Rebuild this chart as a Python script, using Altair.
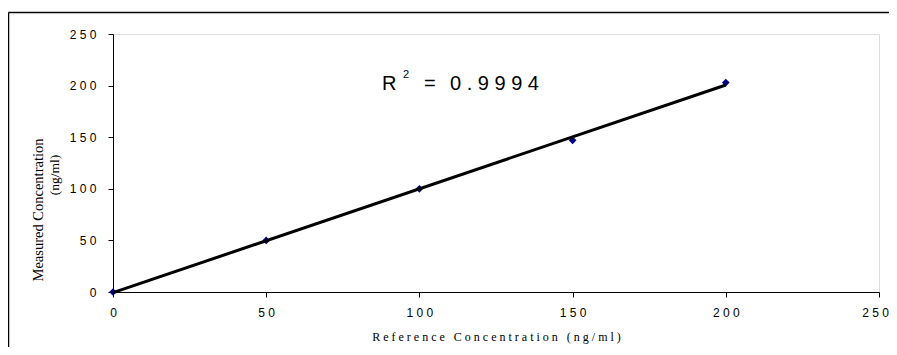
import altair as alt
import pandas as pd

# Data
reference_conc = [0, 50, 100, 150, 200]
measured_conc = [0, 50, 100, 147, 203]
axis_ticks = [0, 50, 100, 150, 200, 250]

df = pd.DataFrame({"ref": reference_conc, "meas": measured_conc})

W, H = 766, 258
NB = "\u00a0"

def spaced(s):
    words = s.split(" ")
    return (NB * 3).join(NB.join(list(w)) for w in words)

x_scale = alt.Scale(domain=[0, 250], nice=False, zero=True)
y_scale = alt.Scale(domain=[0, 250], nice=False, zero=True)

label_expr = "join(split(datum.label, ''), '\u00a0')"

x_axis = alt.Axis(
    values=axis_ticks, grid=False, domainColor="black", domainWidth=1,
    tickColor="black", tickSize=5, labelFont="Liberation Sans", labelFontSize=12,
    labelColor="black", labelPadding=10, labelExpr=label_expr, labelFlush=False,
    labelOverlap=False,
    labelOffset={"condition": {"test": "datum.value == 250", "value": -4}, "value": 0},
    title=spaced("Reference Concentration (ng/ml)"),
    titleFont="Liberation Serif", titleFontSize=12, titleFontWeight="normal",
    titleColor="black", titlePadding=13,
)
y_axis = alt.Axis(
    values=axis_ticks, grid=False, domainColor="black", domainWidth=1,
    tickColor="black", tickSize=5, labelFont="Liberation Sans", labelFontSize=12,
    labelColor="black", labelPadding=12, labelExpr=label_expr, labelFlush=False,
    labelOverlap=False, title=None,
)

base = alt.Chart(df)

points = base.mark_point(shape="diamond", filled=True, color="#000080", size=60, opacity=1).encode(
    x=alt.X("ref:Q", scale=x_scale, axis=x_axis),
    y=alt.Y("meas:Q", scale=y_scale, axis=y_axis),
)

trend = base.transform_regression("ref", "meas", extent=[0, 200]).mark_line(
    color="black", strokeWidth=3
).encode(x=alt.X("ref:Q", scale=x_scale), y=alt.Y("meas:Q", scale=y_scale))

one = alt.Chart(df).transform_filter("datum.ref == 0")

# R^2 annotation
r_txt = one.mark_text(
    text="R", font="Liberation Sans", fontSize=20, align="left", baseline="alphabetic", color="black"
).encode(x=alt.value(269), y=alt.value(56))
sup_txt = one.mark_text(
    text="2", font="Liberation Sans", fontSize=11, align="left", baseline="alphabetic", color="black"
).encode(x=alt.value(290), y=alt.value(44))
eq_txt = one.mark_text(
    text="=", font="Liberation Sans", fontSize=20, align="left", baseline="alphabetic", color="black"
).encode(x=alt.value(311), y=alt.value(56))
val_txt = one.mark_text(
    text=NB.join(list("0.9994")), font="Liberation Sans", fontSize=20, align="left",
    baseline="alphabetic", color="black"
).encode(x=alt.value(337), y=alt.value(56))

# Y axis title (two lines)
ytitle1 = one.mark_text(
    text="Measured Concentration", font="Liberation Serif", fontSize=14.5, angle=270,
    align="center", baseline="middle", color="black"
).encode(x=alt.value(-74), y=alt.value(176))
ytitle2 = one.mark_text(
    text="(ng/ml)", font="Liberation Serif", fontSize=13.5, angle=270,
    align="center", baseline="middle", color="black"
).encode(x=alt.value(-58), y=alt.value(141))

# Outer frame (top and left edges visible in the reference)
frame_top = one.mark_rule(color="black", strokeWidth=1.5).encode(
    x=alt.value(-104.5), x2=alt.value(W + 20), y=alt.value(-21.5))
frame_left = one.mark_rule(color="black", strokeWidth=1.5).encode(
    x=alt.value(-104.5), y=alt.value(-21.5), y2=alt.value(H + 70))

chart = alt.layer(
    frame_top, frame_left, points, trend, r_txt, sup_txt, eq_txt, val_txt, ytitle1, ytitle2
).properties(
    width=W, height=H,
    autosize=alt.AutoSizeParams(type="none"),
    padding={"left": 105, "top": 26, "right": 10, "bottom": 55},
).configure_view(stroke="#9a9a9a", strokeWidth=1).configure(background="white")

chart.save("out.html", embed_options={"renderer": "svg", "actions": False})
